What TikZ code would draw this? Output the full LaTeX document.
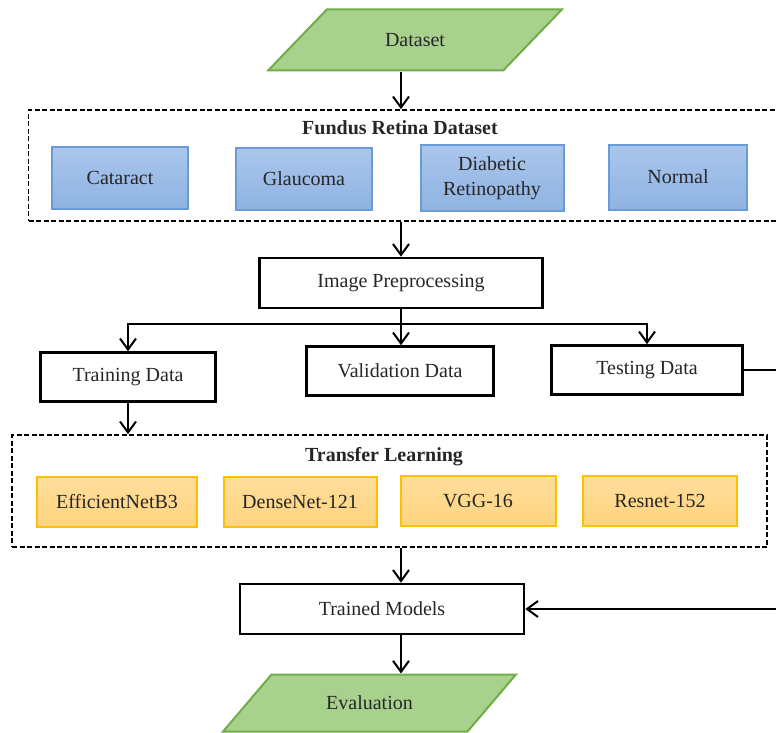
\documentclass[tikz,border=0pt]{standalone}
\usepackage{fontspec}
\setmainfont{Liberation Serif}
\usepackage{xcolor}
\usepackage{tikz}
\usetikzlibrary{arrows.meta, shapes.geometric}

\definecolor{grnfill}{HTML}{A9D18E}
\definecolor{grnline}{HTML}{70AD47}
\definecolor{blutop}{HTML}{AAC6EC}
\definecolor{blubot}{HTML}{8FB3E2}
\definecolor{bluline}{HTML}{6A9BD6}
\definecolor{yeltop}{HTML}{FFDD9C}
\definecolor{yelbot}{HTML}{FFD47F}
\definecolor{yelline}{HTML}{FFC000}

\begin{document}
\begin{tikzpicture}[x=1pt, y=-1pt, >={Straight Barb[length=11pt,width=16pt]},
    every node/.style={font=\fontsize{20}{25}\selectfont, text=black!85},
    io/.style={trapezium, trapezium left angle=42, trapezium right angle=138,
        trapezium stretches=true, draw=grnline, fill=grnfill, line width=2pt,
        minimum width=294, minimum height=61},
    group/.style={draw, dashed, dash pattern=on 5pt off 2.5pt, line width=1.6pt},
    grouptitle/.style={font=\bfseries\fontsize{20}{25}\selectfont},
    classbox/.style={draw=bluline, top color=blutop, bottom color=blubot,
        line width=2pt, minimum width=136, minimum height=62, align=center},
    modelbox/.style={draw=yelline, top color=yeltop, bottom color=yelbot,
        line width=2pt, minimum height=50},
    stagebox/.style={draw, line width=2.6pt, minimum height=49},
    arr/.style={->, line width=2pt}]
    \useasboundingbox (0,0) rectangle (776,733);
    \clip (0,0) rectangle (776,733);

    \node[io] (data) at (415,40) {Dataset};

    \node[group, minimum width=775, minimum height=111] (fund) at (416,165.5) {};
    \node[grouptitle] (fundtitle) at (400,128) {Fundus Retina Dataset};
    \node[classbox] (cat) at (120,178) {Cataract};
    \node[classbox] (gla) at (304,179) {Glaucoma};
    \node[classbox, minimum width=143, minimum height=66] (dr) at (492,178) {Diabetic\\Retinopathy};
    \node[classbox, minimum width=138, minimum height=65] (nor) at (678,177) {Normal};

    \node[stagebox, minimum width=283, minimum height=50] (ip) at (401,283) {Image Preprocessing};

    \node[stagebox, minimum width=175] (trn) at (128,377) {Training Data};
    \node[stagebox, minimum width=187] (val) at (400,371) {Validation Data};
    \node[stagebox, minimum width=191] (tst) at (647,370) {Testing Data};

    \node[group, minimum width=755, minimum height=112] (tl) at (389.5,491) {};
    \node[grouptitle] (tltitle) at (384,457) {Transfer Learning};
    \node[modelbox, minimum width=160] (eff) at (117,502) {EfficientNetB3};
    \node[modelbox, minimum width=153] (den) at (300,502) {DenseNet-121};
    \node[modelbox, minimum width=155] (vgg) at (478,501) {VGG-16};
    \node[modelbox, minimum width=154] (res) at (660,501) {Resnet-152};

    \node[stagebox, minimum width=284, minimum height=50] (trm) at (382,609) {Trained Models};

    \node[io, minimum width=293, minimum height=57] (eva) at (369.5,703) {Evaluation};

    \draw[arr] (ip.north |- data.south) -- (ip.north |- fund.north);
    \draw[arr] (ip.north |- fund.south) -- (ip.north);
    \draw[arr] (ip.south) -- ++(0,15) -| (trn.north);
    \draw[arr] (ip.south) -- (ip.south |- val.north);
    \draw[arr] (ip.south) -- ++(0,15) -| (tst.north);
    \draw[arr] (trn.south) -- (trn.south |- tl.north);
    \draw[arr] (ip.south |- tl.south) -- (ip.south |- trm.north);
    \draw[arr] (ip.south |- trm.south) -- (ip.south |- eva.north);
    \draw[arr] (tst.east) -- ++(60,0) |- (trm.east);
\end{tikzpicture}
\end{document}
